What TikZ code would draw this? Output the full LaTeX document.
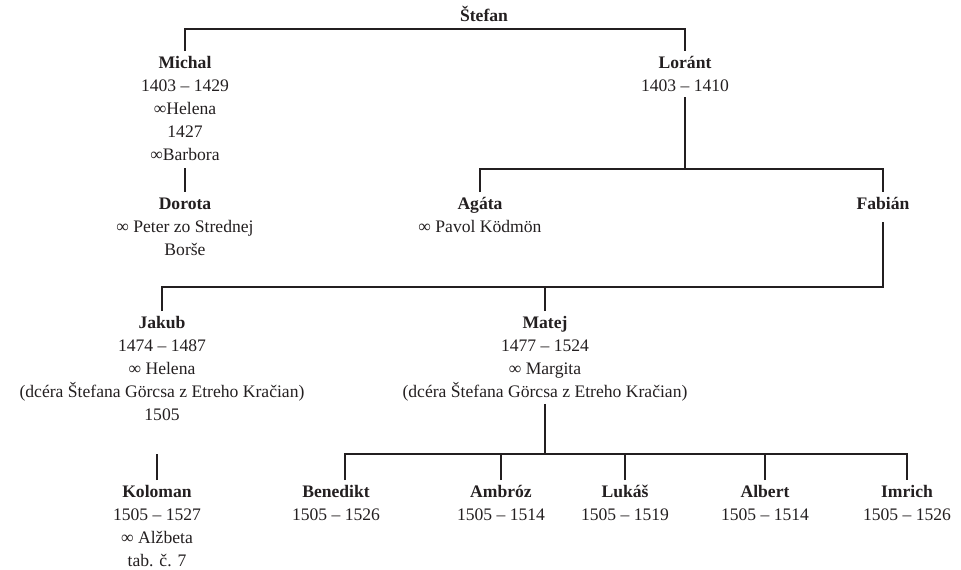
\documentclass[tikz,border=0pt]{standalone}
\usepackage{fontspec}
\setmainfont{Liberation Serif}
\usetikzlibrary{calc}
\definecolor{ink}{HTML}{231F20}
\newcommand{\nm}[1]{\rule{0pt}{17pt}\textbf{#1}}
\tikzset{
  person/.style={align=center, inner sep=0pt, outer sep=0pt, anchor=north,
    text=ink, font=\fontsize{17.6}{23}\selectfont},
  link/.style={draw=ink, line width=2.2pt, line cap=butt, line join=miter}
}
\begin{document}
\begin{tikzpicture}[x=1pt,y=-1pt]
\useasboundingbox (0,0) rectangle (961,570);
% people
\node[person] (stefan) at (484,4) {\nm{Štefan}};
\node[person] (michal) at (185,51) {\nm{Michal}\\1403 – 1429\\∞Helena\\1427\\∞Barbora};
\node[person] (lorant) at (685,51) {\nm{Loránt}\\1403 – 1410};
\node[person] (dorota) at (185,192) {\nm{Dorota}\\∞ Peter zo Strednej\\Borše};
\node[person] (agata) at (480,192) {\nm{Agáta}\\∞ Pavol Ködmön};
\node[person] (fabian) at (883,192) {\nm{Fabián}};
\node[person] (jakub) at (162,311) {\nm{Jakub}\\1474 – 1487\\∞ Helena\\(dcéra Štefana Görcsa z Etreho Kračian)\\1505};
\node[person] (matej) at (545,311) {\nm{Matej}\\1477 – 1524\\∞ Margita\\(dcéra Štefana Görcsa z Etreho Kračian)};
\node[person] (koloman) at (157,480) {\nm{Koloman}\\1505 – 1527\\∞ Alžbeta\\tab. č. 7};
\node[person] (benedikt) at (336,480) {\nm{Benedikt}\\1505 – 1526};
\node[person] (ambroz) at (501,480) {\nm{Ambróz}\\1505 – 1514};
\node[person] (lukas) at (625,480) {\nm{Lukáš}\\1505 – 1519};
\node[person] (albert) at (765,480) {\nm{Albert}\\1505 – 1514};
\node[person] (imrich) at (907,480) {\nm{Imrich}\\1505 – 1526};
% connectors
\draw[link] (michal.north) -- ++(0,-22) coordinate (sbar) -| (lorant.north);
\draw[link] ($(michal.south)+(0,8)$) -- (dorota.north);
\draw[link] (agata.north) -- ++(0,-23) coordinate (lbar) -| (fabian.north);
\draw[link] ($(lorant.south)+(0,6)$) -- (lorant.south |- lbar);
\draw[link] (jakub.north) -- ++(0,-24) coordinate (fbar) -| ($(fabian.south)+(0,13)$);
\draw[link] (matej.north) -- (matej.north |- fbar);
\draw[link] ([xshift=9pt]benedikt.north) -- ++(0,-26) coordinate (mbar) -| (imrich.north);
\draw[link] ($(matej.south)+(0,3)$) -- (matej.south |- mbar);
\draw[link] (ambroz.north) -- (ambroz.north |- mbar);
\draw[link] (lukas.north) -- (lukas.north |- mbar);
\draw[link] (albert.north) -- (albert.north |- mbar);
\draw[link] (koloman.north) -- ++(0,-26) coordinate (kbar);
\end{tikzpicture}
\end{document}
